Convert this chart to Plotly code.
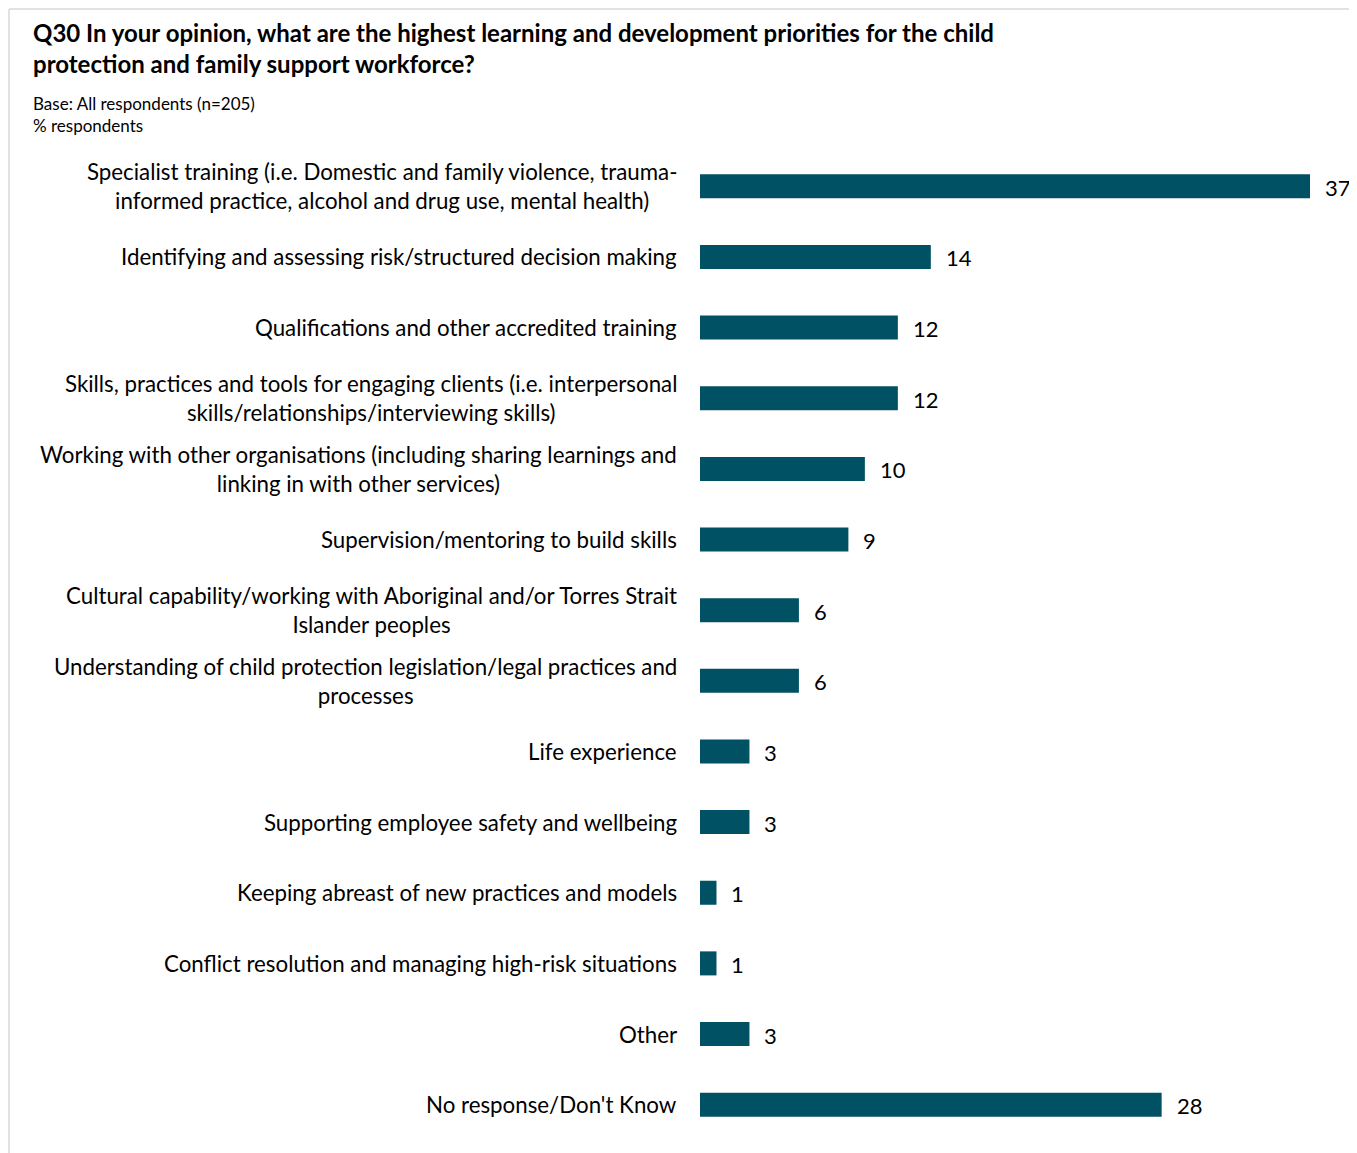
import plotly.graph_objects as go

categories = [
    "Specialist training (i.e. Domestic and family violence, trauma-<br>informed practice, alcohol and drug use, mental health)",
    "Identifying and assessing risk/structured decision making",
    "Qualifications and other accredited training",
    "Skills, practices and tools for engaging clients (i.e. interpersonal<br>skills/relationships/interviewing skills)",
    "Working with other organisations (including sharing learnings and<br>linking in with other services)",
    "Supervision/mentoring to build skills",
    "Cultural capability/working with Aboriginal and/or Torres Strait<br>Islander peoples",
    "Understanding of child protection legislation/legal practices and<br>processes",
    "Life experience",
    "Supporting employee safety and wellbeing",
    "Keeping abreast of new practices and models",
    "Conflict resolution and managing high-risk situations",
    "Other",
    "No response/Don't Know",
]
values = [37, 14, 12, 12, 10, 9, 6, 6, 3, 3, 1, 1, 3, 28]

# page has an 8px body margin; figure coordinates are page coordinates - 8
OFF = 8
W, H = 1357 - OFF, 1153 - OFF
L, R, T, B = 700 - OFF, 14, 151 - OFF, 13
PW, PH = W - L - R, H - T - B

def px_x(px):
    return (px - OFF - L) / PW

def px_y(py):
    return (H - B - (py - OFF)) / PH

FONT = "Lato"
BAR = "#005163"

ids = list(range(len(categories)))

fig = go.Figure()
fig.add_trace(go.Bar(
    x=values, y=ids, orientation="h",
    marker=dict(color=BAR, line=dict(width=0)),
    hoverinfo="skip",
))

annotations = []
for i, (c, v) in enumerate(zip(categories, values)):
    annotations.append(dict(
        x=0, xref="paper", y=i, yref="y", text=c, showarrow=False,
        xanchor="right", yanchor="middle", align="center", xshift=-21,
        font=dict(family=FONT, size=22.3, color="#000000"),
    ))
    annotations.append(dict(
        x=v, xref="x", y=i, yref="y", text=str(v), showarrow=False,
        xanchor="left", yanchor="middle", xshift=13, yshift=-1,
        font=dict(family=FONT, size=22, color="#000000"),
    ))

annotations.append(dict(
    x=px_x(31), xref="paper", y=px_y(16), yref="paper",
    text="<b>Q30 In your opinion, what are the highest learning and development priorities for the child<br>protection and family support workforce?</b>",
    showarrow=False, xanchor="left", yanchor="top", align="left",
    font=dict(family=FONT, size=24, color="#000000"),
))
annotations.append(dict(
    x=px_x(31), xref="paper", y=px_y(91), yref="paper",
    text="Base: All respondents (n=205)<br>% respondents",
    showarrow=False, xanchor="left", yanchor="top", align="left",
    font=dict(family=FONT, size=17, color="#000000"),
))

shapes = [
    dict(type="line", xref="paper", yref="paper", x0=px_x(9), x1=px_x(1357), y0=px_y(9), y1=px_y(9),
         line=dict(color="#d9d9d9", width=1.5)),
    dict(type="line", xref="paper", yref="paper", x0=px_x(9), x1=px_x(9), y0=px_y(9), y1=px_y(1153),
         line=dict(color="#d9d9d9", width=1.5)),
]

fig.update_layout(
    width=W, height=H,
    margin=dict(l=L, r=R, t=T, b=B),
    paper_bgcolor="white", plot_bgcolor="white",
    showlegend=False,
    bargap=0.66,
    annotations=annotations,
    shapes=shapes,
    xaxis=dict(range=[0, 39], visible=False, fixedrange=True),
    yaxis=dict(range=[len(categories) - 0.5, -0.5], visible=False, fixedrange=True),
    font=dict(family=FONT),
)

fig.write_html("out.html")
